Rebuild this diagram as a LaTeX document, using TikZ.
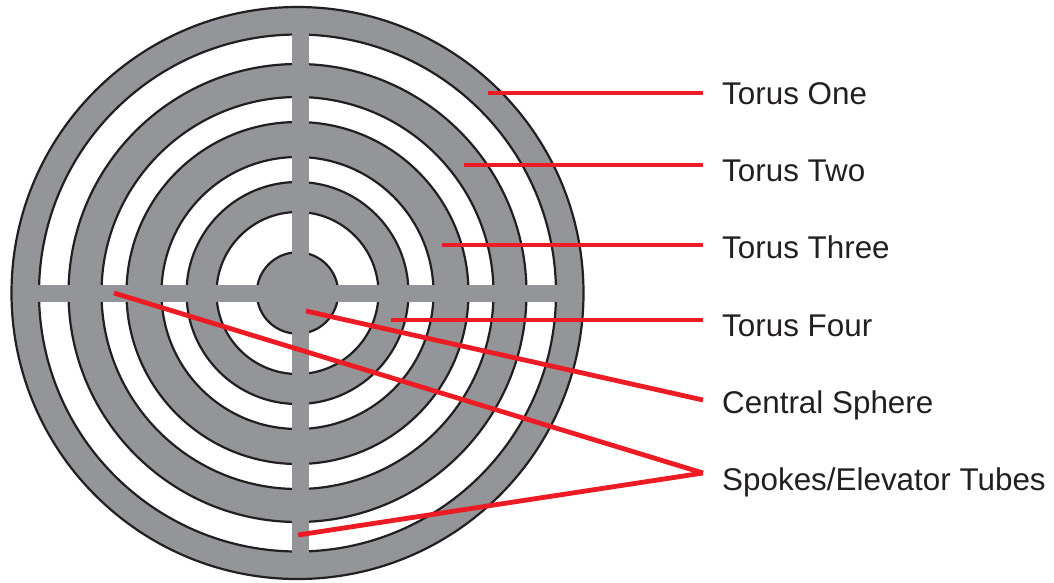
\documentclass[tikz,border=0pt]{standalone}
\usepackage{fontspec}
\setmainfont{Liberation Sans}
\usetikzlibrary{positioning}
\definecolor{hubgray}{RGB}{147,149,152}
\definecolor{leadred}{RGB}{237,28,36}
\definecolor{inkblack}{RGB}{35,31,32}
\tikzset{
  ring/.style={draw=inkblack, line width=2.2pt},
  leader/.style={draw=leadred, line width=4.8pt},
  partlabel/.style={anchor=base west, inner sep=0pt, text=inkblack, font=\fontsize{31.4}{31.4}\selectfont}
}
\begin{document}
\begin{tikzpicture}[x=1pt,y=-1pt]
  \useasboundingbox (0,0) rectangle (1054,582);
  % rings, outside in
  \foreach \rad/\col in {286/hubgray,258.5/white,229/hubgray,196/white,171/hubgray,136/white,111/hubgray,81/white,40.7/hubgray}
    \draw[ring, fill=\col] (297.5,293) circle[radius=\rad];
  % spokes
  \fill[hubgray] (292,22) rectangle (309,566);
  \fill[hubgray] (26,285) rectangle (570,302);
  % labels
  \node[partlabel] (one) at (722,104) {Torus One};
  \node[partlabel] (two) at (722,181) {Torus Two};
  \node[partlabel] (three) at (722,258) {Torus Three};
  \node[partlabel] (four) at (722,336) {Torus Four};
  \node[partlabel] (sphere) at (722,413) {Central Sphere};
  \node[partlabel] (spokes) at (722,490) {Spokes/Elevator Tubes};
  % leader lines
  \coordinate (oneA) at (488,93);
  \coordinate (oneB) at (703,93);
  \coordinate (twoA) at (464,165);
  \coordinate (twoB) at (703,165);
  \coordinate (threeA) at (442,245);
  \coordinate (threeB) at (703,245);
  \coordinate (fourA) at (391,320);
  \coordinate (fourB) at (703,320);
  \coordinate (sphereA) at (306,311);
  \coordinate (sphereB) at (703,400);
  \coordinate (spokeA) at (114,293);
  \coordinate (spokeB) at (298,535);
  \coordinate (spokeC) at (703,473);
  \draw[leader] (oneA) -- (oneB);
  \draw[leader] (twoA) -- (twoB);
  \draw[leader] (threeA) -- (threeB);
  \draw[leader] (fourA) -- (fourB);
  \draw[leader] (sphereA) -- (sphereB);
  \draw[leader] (spokeA) -- (spokeC);
  \draw[leader] (spokeB) -- (spokeC);
\end{tikzpicture}
\end{document}
